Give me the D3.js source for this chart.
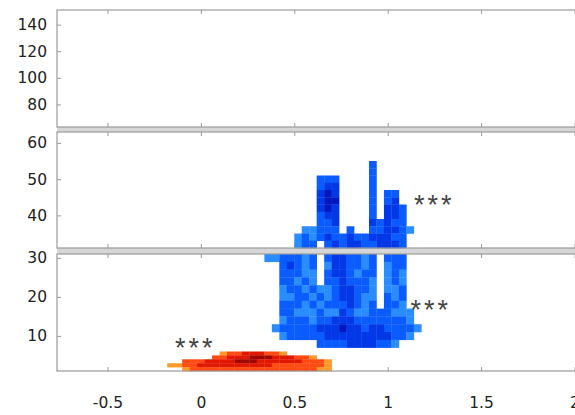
<!DOCTYPE html>
<html><head><meta charset="utf-8">
<script src="https://cdn.jsdelivr.net/npm/d3@7"></script>
<style>html,body{margin:0;padding:0;background:#fff;}svg{display:block;}</style>
</head><body>
<svg id="chart" width="575" height="415"></svg>
<script>
// ---------- data ----------
const xTicks = [-0.5, 0, 0.5, 1, 1.5, 2];
const xTickLabels = ["-0.5", "0", "0.5", "1", "1.5", "2"];
const xDomain = [-0.77, 2.0];
const topDomain = [63, 151], midDomain = [31, 63], botDomain = [1, 31];
const yTicksTop = [80, 100, 120, 140];
const yTicksMid = [40, 50, 60];
const yTicksBot = [10, 20, 30];

// blue density grid: column left edges (x), row lower edges (y), level 0..4
const blueBinW = 0.04, blueBinH = 2;
const blueCols = [0.30,0.34,0.38,0.42,0.46,0.50,0.54,0.58,0.62,0.66,0.70,0.74,0.78,0.82,0.86,0.90,0.94,0.98,1.02,1.06,1.10,1.14];
const blueRows = [53,51,49,47,45,43,41,39,37,35,33,31,29,27,25,23,21,19,17,15,13,11,9,7];
const blueGrid = [
  [0,0,0,0,0,0,0,0,0,0,0,0,0,0,0,2,0,0,0,0,0,0],
  [0,0,0,0,0,0,0,0,0,0,0,0,0,0,0,2,0,0,0,0,0,0],
  [0,0,0,0,0,0,0,0,2,2,2,0,0,0,0,2,0,0,0,0,0,0],
  [0,0,0,0,0,0,0,0,2,3,3,0,0,0,0,2,0,0,0,0,0,0],
  [0,0,0,0,0,0,0,0,3,4,3,0,0,0,0,2,0,2,2,0,0,0],
  [0,0,0,0,0,0,0,0,3,4,4,0,0,0,0,2,0,2,3,0,0,0],
  [0,0,0,0,0,0,0,0,3,4,3,0,0,0,0,2,0,3,3,2,0,0],
  [0,0,0,0,0,0,0,0,2,3,3,0,0,0,0,2,0,3,3,2,0,0],
  [0,0,0,0,0,0,0,0,2,2,3,0,0,0,0,3,2,3,2,2,0,0],
  [0,0,0,0,0,0,1,1,2,2,2,0,2,0,0,2,2,3,3,2,1,0],
  [0,0,0,0,0,1,2,1,2,3,2,2,3,2,2,3,3,3,2,2,0,0],
  [0,0,0,0,0,1,2,2,0,2,3,2,3,3,2,2,3,3,3,2,0,0],
  [0,1,1,2,2,2,1,2,0,2,3,3,2,2,1,2,0,2,2,2,0,0],
  [0,0,0,2,3,2,1,2,0,1,3,3,2,2,1,2,0,1,2,2,0,0],
  [0,0,0,2,2,2,1,1,0,2,3,3,2,1,2,2,0,1,2,1,0,0],
  [0,0,0,2,2,1,2,1,0,2,2,3,2,2,2,1,0,1,2,1,0,0],
  [0,0,0,1,2,2,1,2,1,1,2,3,3,2,2,1,0,1,1,2,0,0],
  [0,0,0,1,1,2,2,1,2,1,2,3,3,2,1,1,0,2,1,2,0,0],
  [0,0,0,2,2,2,1,2,1,2,2,2,3,2,1,2,0,2,2,1,0,0],
  [0,0,0,2,2,1,1,1,2,1,1,3,2,1,1,2,2,2,1,1,1,0],
  [0,0,0,1,2,2,2,1,2,2,3,3,3,2,2,2,2,2,2,2,1,0],
  [0,0,1,2,2,2,2,2,3,3,3,4,3,3,2,3,3,2,2,2,2,1],
  [0,0,0,1,2,2,2,2,2,3,3,3,3,3,3,3,3,3,2,2,1,0],
  [0,0,0,0,0,0,0,0,2,2,2,2,3,3,3,3,2,2,1,0,0,0]
];

// red density grid
const redBinW = 0.04, redBinH = 1;
const redCols = [-0.18,-0.14,-0.10,-0.06,-0.02,0.02,0.06,0.10,0.14,0.18,0.22,0.26,0.30,0.34,0.38,0.42,0.46,0.50,0.54,0.58,0.62,0.66];
const redRows = [5,4,3,2,1];
const redGrid = [
  [0,0,0,0,0,0,0,1,2,2,3,3,3,2,2,1,0,0,0,0,0,0],
  [0,0,0,0,0,0,2,2,3,3,3,4,4,4,3,3,3,2,2,1,0,0],
  [0,0,2,2,2,3,3,3,3,4,4,4,3,3,3,3,3,3,2,2,2,1],
  [1,1,2,2,3,3,3,3,3,3,3,3,3,3,2,2,2,2,2,2,2,1],
  [0,0,1,2,2,2,2,2,2,2,2,2,2,2,2,2,2,2,2,2,1,1]
];

// significance annotations (data coordinates)
const annotX = [1.25, 1.23, -0.03];
const annotY = [44.3, 17.9, 8.2];
const annotText = ["***", "***", "***"];

// ---------- styles ----------
const blueColors = [null, "#2a8dff", "#0b5cff", "#0338e8", "#0018c0"];
const redColors = [null, "#ff9a28", "#ff4a12", "#e01800", "#a00600"];

// ---------- layout ----------
const svg = d3.select("#chart");
const L = 57, R = 574.5;
const panels = [
  {domain: topDomain, ticks: yTicksTop, y0: 10, y1: 127},
  {domain: midDomain, ticks: yTicksMid, y0: 132, y1: 248},
  {domain: botDomain, ticks: yTicksBot, y0: 254, y1: 371}
];
const x = d3.scaleLinear().domain(xDomain).range([L, R]);
panels.forEach(p => { p.y = d3.scaleLinear().domain(p.domain).range([p.y1, p.y0]); });

// separator bands
svg.append("rect").attr("x", L).attr("y", 127).attr("width", R - L + 2).attr("height", 5).attr("fill", "#d6d6d6");
svg.append("rect").attr("x", L).attr("y", 248).attr("width", R - L + 2).attr("height", 6).attr("fill", "#d6d6d6");

const fontFam = "'DejaVu Sans', Verdana, sans-serif";

panels.forEach((p, pi) => {
  const g = svg.append("g");
  const ya = g.append("g").attr("transform", `translate(${L},0)`)
    .call(d3.axisLeft(p.y).tickValues(p.ticks).tickSize(-4).tickPadding(10).tickFormat(d3.format("d")));
  ya.select(".domain").remove();
  ya.selectAll("line").attr("stroke", "#999");
  ya.selectAll("text").attr("font-family", fontFam).attr("font-size", 15.5).attr("fill", "#222");
  const xt = g.append("g").attr("transform", `translate(0,${p.y0})`)
    .call(d3.axisTop(x).tickValues(xTicks).tickSize(-4).tickFormat(""));
  xt.select(".domain").remove();
  xt.selectAll("line").attr("stroke", "#999");
  const xb = g.append("g").attr("transform", `translate(0,${p.y1})`)
    .call(d3.axisBottom(x).tickValues(xTicks).tickSize(-4).tickPadding(26)
      .tickFormat((d, i) => pi === 2 ? xTickLabels[i] : ""));
  xb.select(".domain").remove();
  xb.selectAll("line").attr("stroke", "#999");
  xb.selectAll("text").attr("font-family", fontFam).attr("font-size", 15.5).attr("fill", "#222");
});

function panelFor(v) { return v >= 31 ? (v >= 63 ? panels[0] : panels[1]) : panels[2]; }

function drawGrid(cols, rows, grid, bw, bh, colors) {
  const cells = [];
  rows.forEach((ry, ri) => cols.forEach((cx, ci) => {
    const lv = grid[ri][ci];
    if (lv > 0) cells.push({x0: cx, y0: ry, lv});
  }));
  cells.forEach(c => {
    const p = panelFor(c.y0);
    svg.append("rect")
      .attr("x", x(c.x0)).attr("width", x(c.x0 + bw) - x(c.x0) + 0.3)
      .attr("y", p.y(c.y0 + bh)).attr("height", p.y(c.y0) - p.y(c.y0 + bh) + 0.3)
      .attr("fill", colors[c.lv]);
  });
}
drawGrid(blueCols, blueRows, blueGrid, blueBinW, blueBinH, blueColors);
drawGrid(redCols, redRows, redGrid, redBinW, redBinH, redColors);

panels.forEach(p => {
  svg.append("rect").attr("x", L).attr("y", p.y0).attr("width", R - L + 2).attr("height", p.y1 - p.y0)
    .attr("fill", "none").attr("stroke", "#9a9a9a").attr("stroke-width", 1.2);
});

annotText.forEach((t, i) => {
  const p = panelFor(annotY[i]);
  svg.append("text").attr("x", x(annotX[i])).attr("y", p.y(annotY[i]) + 14)
    .attr("text-anchor", "middle").attr("font-family", "'Liberation Sans', Arial, sans-serif")
    .attr("font-size", 27).attr("letter-spacing", 3).attr("fill", "#444").text(t);
});
</script>
</body></html>
